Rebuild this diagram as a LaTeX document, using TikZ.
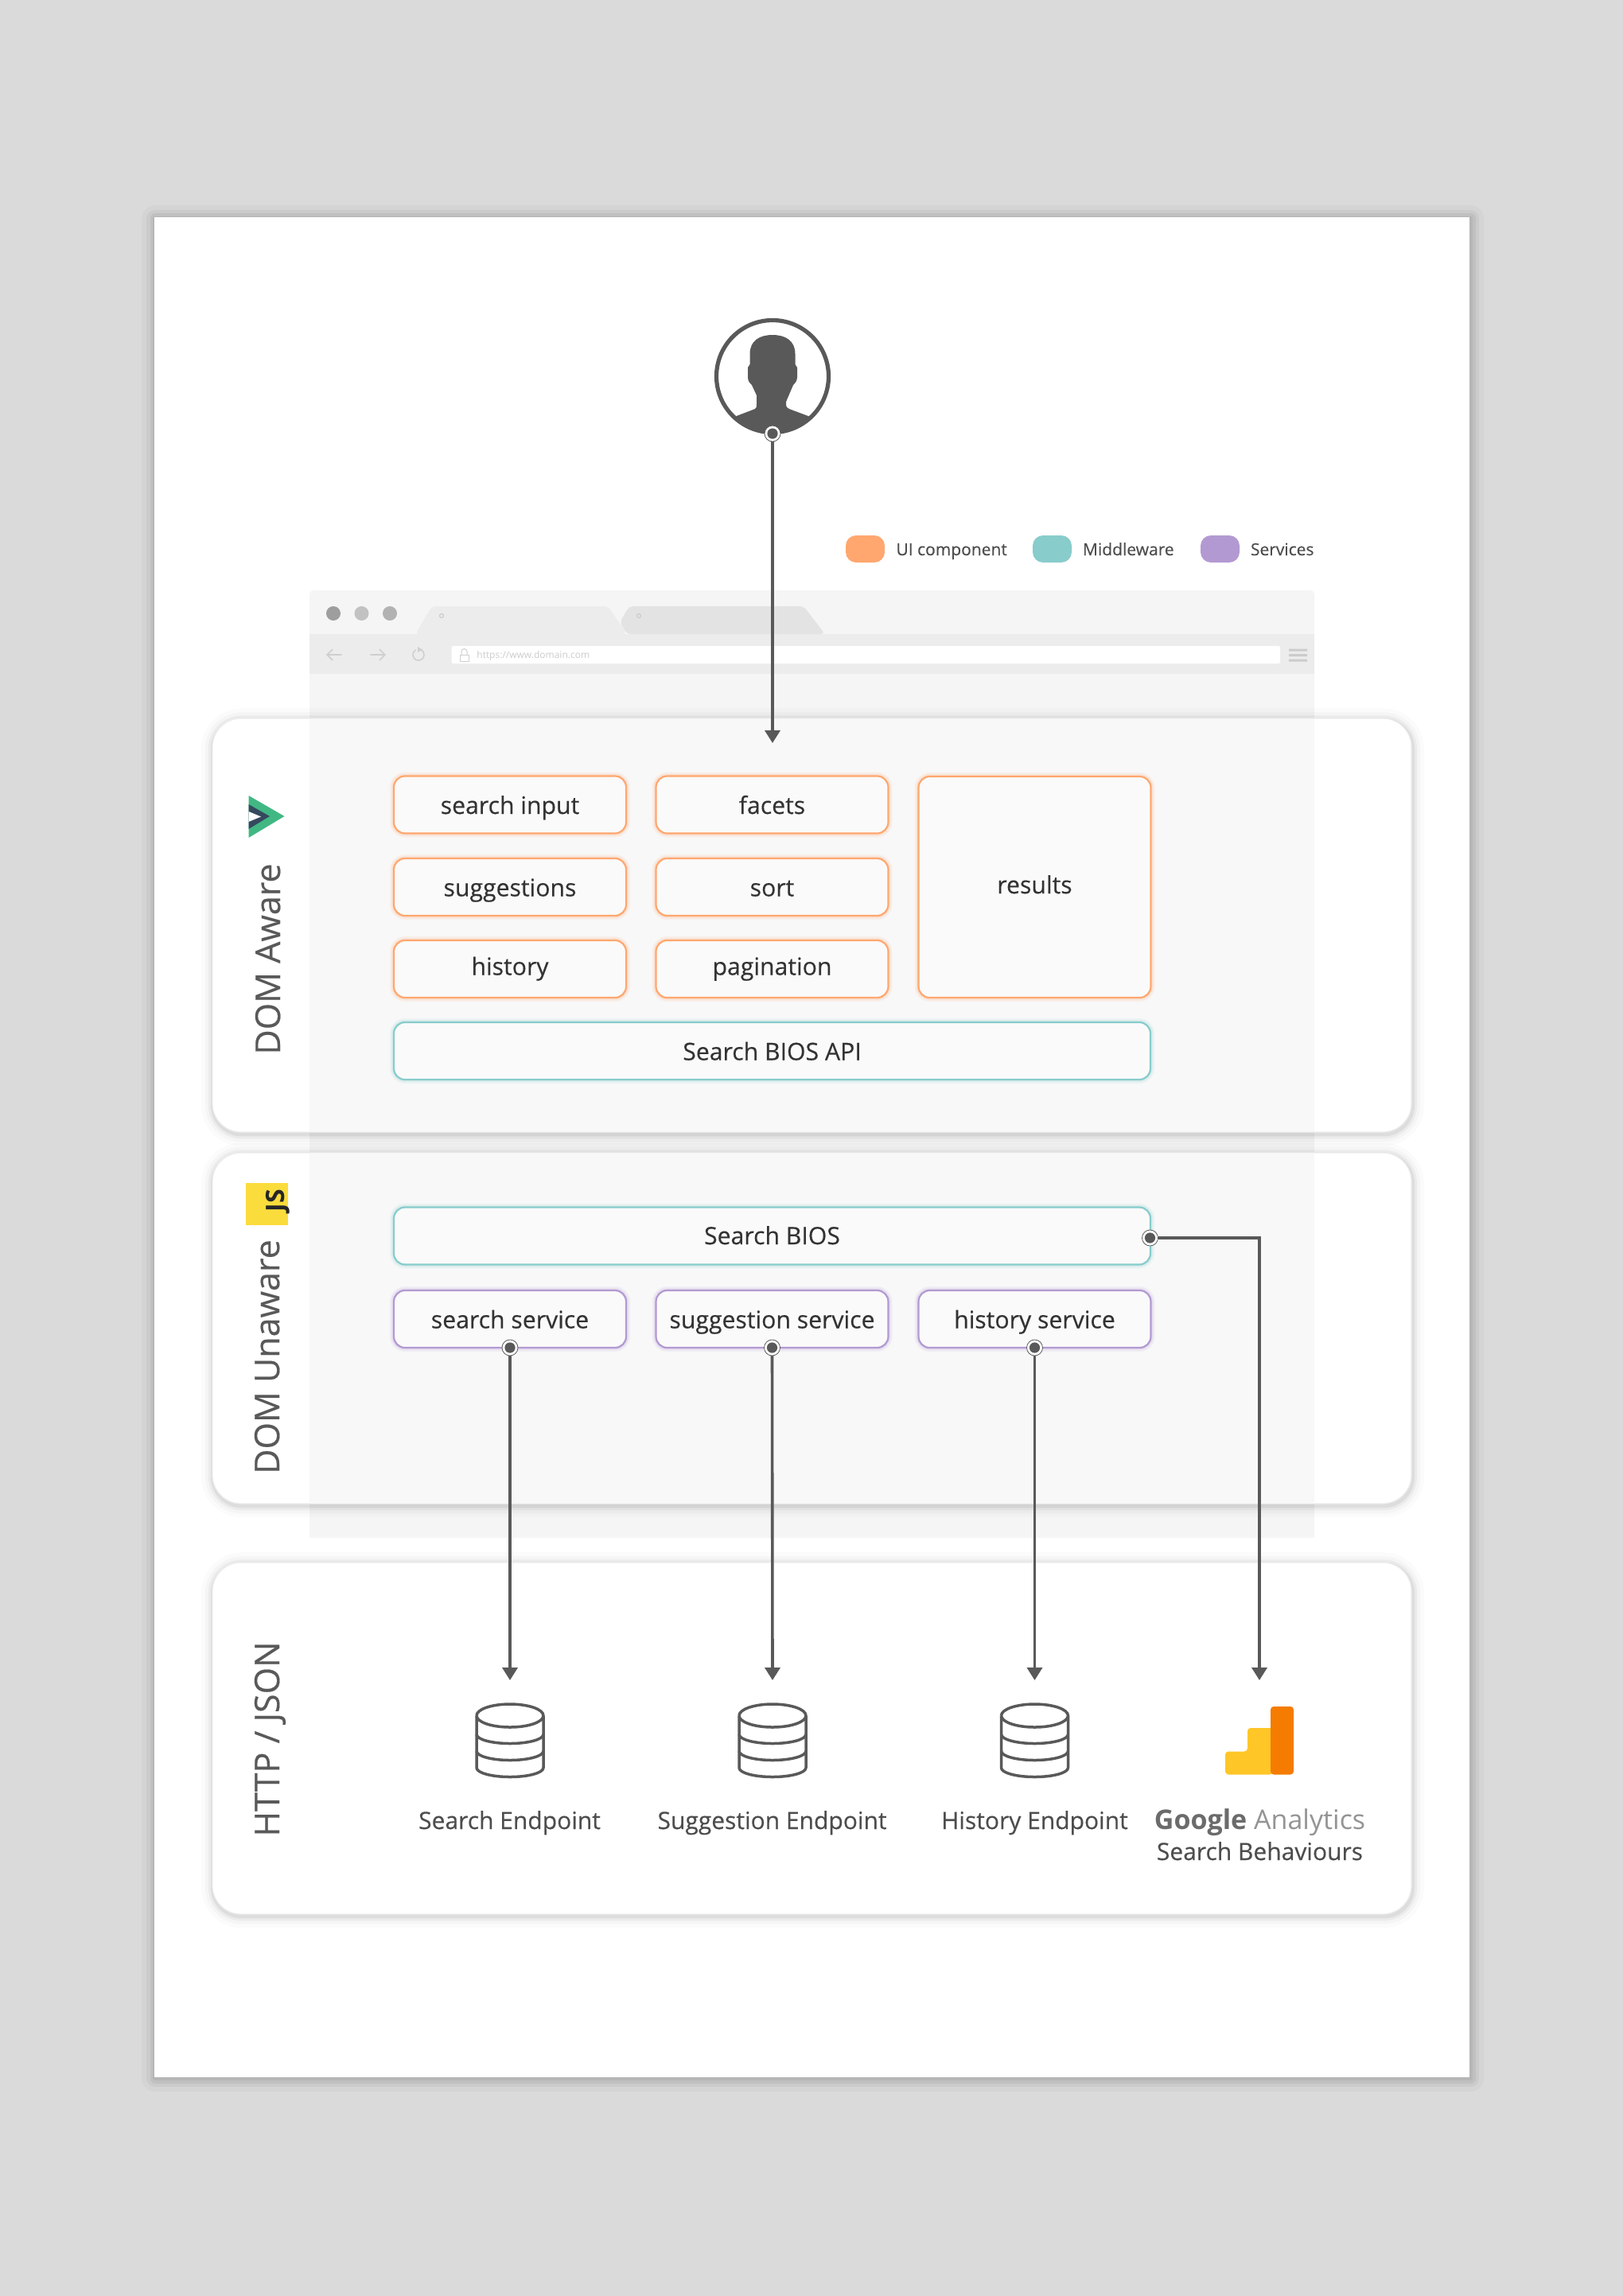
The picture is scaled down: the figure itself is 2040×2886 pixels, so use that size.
\documentclass[tikz,border=0pt]{standalone}
\usepackage{fontspec}
\setmainfont{Open Sans}
\newfontfamily\medfont[FakeBold=0.35]{Open Sans}
\usetikzlibrary{arrows.meta}
\definecolor{bgc}{HTML}{DADADA}
\definecolor{ink}{HTML}{595959}
\definecolor{orangeC}{HTML}{FFA76F}
\definecolor{tealC}{HTML}{88CCCC}
\definecolor{purpleC}{HTML}{B399D2}
\definecolor{txtC}{HTML}{333333}
\definecolor{lblC}{HTML}{4D4D4D}
\definecolor{vueG}{HTML}{41B883}
\definecolor{vueD}{HTML}{35495E}
\definecolor{jsY}{HTML}{FADC3C}
\definecolor{gaY}{HTML}{FFC627}
\definecolor{gaO}{HTML}{F57C00}
\tikzset{
  sheetshadow/.style={
    preaction={draw=black,draw opacity=.025,line width=17pt,line join=round,transform canvas={shift={(.7pt,-.7pt)}}},
    preaction={draw=black,draw opacity=.04,line width=11pt,line join=round,transform canvas={shift={(.7pt,-.7pt)}}},
    preaction={draw=black,draw opacity=.05,line width=6.5pt,line join=round,transform canvas={shift={(.7pt,-.7pt)}}},
    preaction={draw=black,draw opacity=.05,line width=3pt,line join=round,transform canvas={shift={(.7pt,-.7pt)}}}},
  panelshadow/.style={
    preaction={draw=black,draw opacity=.015,line width=15pt,transform canvas={shift={(.5pt,-1.2pt)}}},
    preaction={draw=black,draw opacity=.025,line width=10pt,transform canvas={shift={(.5pt,-1.2pt)}}},
    preaction={draw=black,draw opacity=.04,line width=6pt,transform canvas={shift={(.5pt,-1.2pt)}}},
    preaction={draw=black,draw opacity=.06,line width=3pt,transform canvas={shift={(.5pt,-1.2pt)}}}},
  sheet/.style={rectangle,fill=white,draw=none,inner sep=0,outer sep=0,sheetshadow},
  panel/.style={rectangle,rounded corners=18pt,fill=white,draw=black!7,line width=.6pt,inner sep=0,outer sep=0,minimum width=753.5pt,panelshadow},
  boxbase/.style={rectangle,rounded corners=7pt,fill=white!98!black,inner sep=0,outer sep=0,minimum height=36pt,
    font=\medfont\fontsize{15.1pt}{19pt}\selectfont,text=txtC,text height=14pt,text depth=2.5pt,line width=1.1pt,
    preaction={draw=#1,draw opacity=.10,line width=5pt},
    preaction={draw=#1,draw opacity=.16,line width=3pt},draw=#1},
  uibox/.style={boxbase=orangeC,minimum width=146pt},
  midbox/.style={boxbase=tealC,minimum width=475.5pt},
  svcbox/.style={boxbase=purpleC,minimum width=146pt},
  legendswatch/.style={rectangle,rounded corners=6.5pt,minimum width=24.5pt,minimum height=17pt,inner sep=0,outer sep=0},
  legendtext/.style={anchor=base west,inner sep=0,outer sep=0,font=\medfont\fontsize{10.5pt}{13pt}\selectfont,text=lblC},
  layertitle/.style={anchor=base,rotate=90,inner sep=0,outer sep=0,font=\medfont\fontsize{21.5pt}{25pt}\selectfont,text=ink},
  endlabel/.style={anchor=base,inner sep=0,outer sep=0,font=\medfont\fontsize{15pt}{19pt}\selectfont,text=lblC},
  flow/.style={draw=ink,line width=1.8pt,-{Triangle[length=8pt,width=9.5pt]}},
  portring/.style={circle,fill=white,draw=ink,line width=.4pt,minimum size=10pt,inner sep=0,outer sep=0},
  portcore/.style={circle,fill=ink,minimum size=6.6pt,inner sep=0,outer sep=0},
  dbghost/.style={rectangle,draw=none,minimum width=42pt,minimum height=61pt,inner sep=0,outer sep=0},
  dbline/.style={draw=ink,line width=1.75pt,line join=round},
  bicon/.style={draw=black!19,line width=.8pt,line cap=round,line join=round},
}
\newcommand{\dbicon}[1]{%
  \draw[dbline] (#1-42,2156.5) arc[start angle=180,end angle=-180,x radius=42,y radius=14.5];
  \draw[dbline] (#1-42,2156.5) -- (#1-42,2222) arc[start angle=180,end angle=0,x radius=42,y radius=11.5] -- (#1+42,2156.5);
  \draw[dbline] (#1-42,2180) arc[start angle=180,end angle=0,x radius=42,y radius=11.5];
  \draw[dbline] (#1-42,2201) arc[start angle=180,end angle=0,x radius=42,y radius=11.5];
}
\newcommand{\portmark}[2]{\node[portring] (#1) at #2 {}; \node[portcore] at (#1) {};}
\begin{document}
\begin{tikzpicture}[x=0.5pt,y=-0.5pt]
\useasboundingbox (0,0) rectangle (2040,2886);
\fill[bgc] (0,0) rectangle (2040,2886);
\node[sheet,minimum width=826.4pt,minimum height=1168.8pt] (sheet) at (1020.3,1442.2) {};

% browser
\fill[black!4,rounded corners=2.5pt] (389,1000) -- (389,742) -- (1652,742) -- (1652,1000) -- cycle;
\fill[black!4] (389,900) rectangle (1652,1933);
\fill[black!7.5] (389,797) rectangle (1652,847);
\fill[black!11,rounded corners=2.5pt] (779,782) -- (791,762) -- (1010,762) -- (1037,797) -- (788,797) -- cycle;
\fill[black!7.5,rounded corners=2.5pt] (522,797) -- (543,762) -- (764,762) -- (788,797) -- cycle;
\fill[black!38] (419,771) circle (9);
\fill[black!24] (454.5,771) circle (9);
\fill[black!30] (490,771) circle (9);
\draw[black!20,line width=.6pt] (555,774) circle (2.5);
\draw[black!20,line width=.6pt] (803,774) circle (2.5);
\fill[white,rounded corners=1pt] (567.5,812) rectangle (1609,834);
\draw[bicon,-{Straight Barb[length=3.5pt,width=7pt]}] (429,823) -- (410,823);
\draw[bicon,-{Straight Barb[length=3.5pt,width=7pt]}] (466,823) -- (485,823);
\draw[bicon] (529.5,817) arc[start angle=-60,end angle=240,radius=7];
\fill[black!19] (525,813) -- (531,816.5) -- (525,820) -- cycle;
\draw[bicon,line width=.5pt] (578,823) rectangle (589,831);
\draw[bicon,line width=.5pt] (580,823) -- (580,819) arc[start angle=180,end angle=360,radius=3.5] -- (587,823);
\node[anchor=base west,inner sep=0,font=\fontsize{6pt}{7pt}\selectfont,text=black!20] (urltext) at (599,827) {https://www.domain.com};
\fill[black!20] (1620,815.5) rectangle (1643,818.5) (1620,822) rectangle (1643,825) (1620,828.5) rectangle (1643,831.5);

% layers
\node[panel,minimum height=260pt] (layerA) at (1020.5,1163) {};
\node[panel,minimum height=220.5pt] (layerB) at (1020.5,1669.5) {};
\node[panel,minimum height=221pt] (layerC) at (1020.5,2185) {};
\begin{scope}
  \clip[rounded corners=18pt] (267.5,903.5) rectangle (1773.5,1422.5);
  \fill[black!2.6] (389,900) rectangle (1652,1430);
\end{scope}
\begin{scope}
  \clip[rounded corners=18pt] (267.5,1449.5) rectangle (1773.5,1889.5);
  \fill[black!2.6] (389,1440) rectangle (1652,1900);
\end{scope}

% user
\begin{scope}
  \clip (971,473) circle (71);
  \fill[ink] (942.5,458) -- (942.5,445) .. controls (942.5,428) and (955,421) .. (971,421)
    .. controls (987,421) and (999.5,428) .. (999.5,445) -- (999.5,458) -- (1002,462) -- (1002,474)
    .. controls (1002,479) and (999,482) .. (997,484) -- (988,505) -- (988,508) .. controls (988,512) and (990,513) .. (992,514)
    -- (1016,523) -- (1060,540) -- (1060,620) -- (880,620) -- (880,540) -- (925.5,523) -- (949,514)
    .. controls (951,513) and (951,511) .. (951,508) -- (951,497) -- (945,484)
    .. controls (942,481) and (940,479) .. (940,474) -- (940,462) -- cycle;
\end{scope}
\node[circle,draw=ink,line width=2.6pt,minimum size=70.5pt,inner sep=0,outer sep=0] (user) at (971,473) {};
\portmark{portUser}{(971,545)}
\coordinate (entry) at (971,934);

% legend
\node[legendswatch,fill=orangeC] (swUI) at (1087.5,690) {};
\node[legendswatch,fill=tealC] (swMid) at (1322.5,690) {};
\node[legendswatch,fill=purpleC] (swSvc) at (1533.5,690) {};
\node[legendtext] (lgUI) at (1126.5,698) {UI component};
\node[legendtext] (lgMid) at (1361,698) {Middleware};
\node[legendtext] (lgSvc) at (1572,698) {Services};

% layer titles and logos
\node[layertitle] (titleA) at (352,1205.5) {DOM Aware};
\node[layertitle] (titleB) at (351,1705.5) {DOM Unaware};
\node[layertitle] (titleC) at (351,2186) {HTTP / JSON};
\fill[vueG] (312.5,1000) -- (357.5,1026) -- (312.5,1053) -- cycle;
\fill[vueD] (312.5,1011) -- (339,1026) -- (312.5,1042) -- cycle;
\fill[white] (312.5,1020) -- (328,1026.5) -- (312.5,1033) -- cycle;
\fill[jsY] (308.5,1487) rectangle (362,1540);
\node[anchor=base,rotate=90,inner sep=0,font=\bfseries\fontsize{16pt}{20pt}\selectfont,text=black!85] (jsmark) at (357.5,1509) {JS};

% UI boxes
\node[uibox] (searchinput) at (641,1011.5) {search input};
\node[uibox] (suggestions) at (641,1115) {suggestions};
\node[uibox,text height=10.5pt,text depth=3pt] (history) at (641,1218) {history};
\node[uibox] (facets) at (970.5,1011.5) {facets};
\node[uibox] (sort) at (970.5,1115) {sort};
\node[uibox,text height=10.5pt,text depth=3pt] (pagination) at (970.5,1218) {pagination};
\node[uibox,minimum height=139pt,text height=11pt,text depth=3pt] (results) at (1300.5,1115) {results};
\node[midbox] (api) at (970.5,1321) {Search BIOS API};

\node[midbox,text height=13.5pt,text depth=3pt] (bios) at (970.5,1553.5) {Search BIOS};
\node[svcbox] (svcSearch) at (641,1658) {search service};
\node[svcbox] (svcSuggest) at (970.5,1658) {suggestion service};
\node[svcbox] (svcHistory) at (1300.5,1658) {history service};

% ghosts for targets
\node[dbghost] (dbSearch) at (641,2173) {};
\node[dbghost] (dbSuggest) at (971,2173) {};
\node[dbghost] (dbHistory) at (1300.5,2173) {};
\node[dbghost] (gaIcon) at (1583,2173) {};

\dbicon{641}
\dbicon{971}
\dbicon{1300.5}

% analytics icon
\fill[gaY,rounded corners=2pt] (1540,2230.5) -- (1540,2201.5) -- (1568,2201.5) -- (1568,2172) -- (1600,2172) -- (1600,2230.5) -- cycle;
\fill[gaO,rounded corners=2pt] (1597,2230.5) -- (1597,2145) -- (1626,2145) -- (1626,2230.5) -- cycle;

% endpoint labels
\node[endlabel] (lblSearch) at (640.5,2299) {Search Endpoint};
\node[endlabel] (lblSuggest) at (970.5,2299) {Suggestion Endpoint};
\node[endlabel] (lblHistory) at (1300.5,2299) {History Endpoint};
\node[anchor=base,inner sep=0,outer sep=0,font=\fontsize{17pt}{19pt}\selectfont] (lblGA) at (1583.5,2299) {{\bfseries\color{black!58}Google}\ {\color{black!42}Analytics}};
\node[endlabel] (lblBeh) at (1583.5,2338) {Search Behaviours};

% connectors
\portmark{portSearch}{(641,1694)}
\portmark{portSuggest}{(970.5,1694)}
\portmark{portHistory}{(1300.5,1694)}
\portmark{portBios}{(1445.5,1556)}
\draw[flow] (portUser) -- (entry);
\draw[flow] (portSearch) -- (dbSearch.north);
\draw[flow] (portSuggest) -- (dbSuggest.north);
\draw[flow] (portHistory) -- (dbHistory.north);
\draw[flow] (portBios) -| (gaIcon.north);
\end{tikzpicture}
\end{document}
